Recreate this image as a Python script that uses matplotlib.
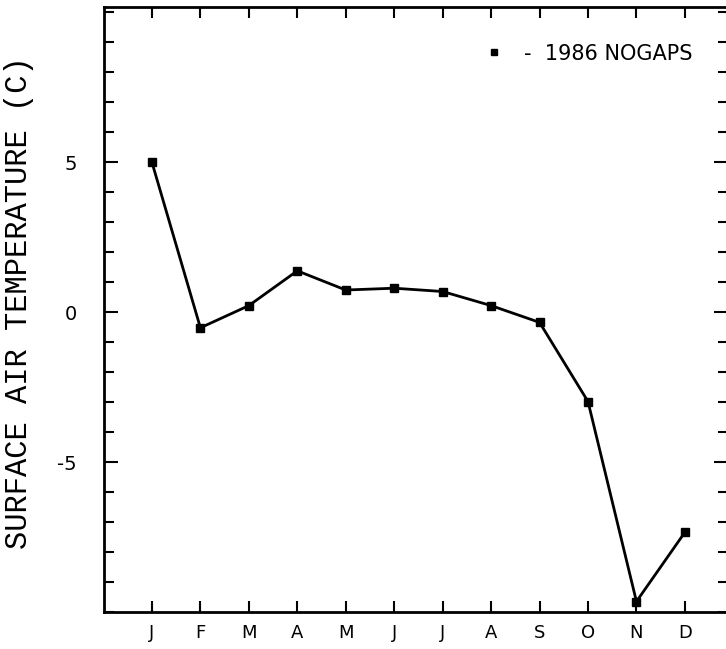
import matplotlib.pyplot as plt
from matplotlib.lines import Line2D
from matplotlib.ticker import MultipleLocator

# monthly surface air temperature, 1986 NOGAPS
months = ['J', 'F', 'M', 'A', 'M', 'J', 'J', 'A', 'S', 'O', 'N', 'D']
month_pos = list(range(1, 13))
temps = [5.0, -0.52, 0.22, 1.38, 0.74, 0.8, 0.69, 0.22, -0.34, -2.98, -9.65, -7.34]
yticks = [-5, 0, 5]
ytick_labels = ['-5', '0', '5']

fig = plt.figure(figsize=(7.26, 6.49), dpi=100)
W, H = 726, 649
# axes box in pixels (right spine sits just past the picture edge)
left, right, top, bottom = 103.5, 728.5, 7, 612
ax = fig.add_axes([left / W, 1 - bottom / H, (right - left) / W, (bottom - top) / H])

ax.plot(month_pos, temps, color='black', lw=2, marker='s', ms=6)

ax.set_xlim(0, 12.9)
ax.set_ylim(-10, 10.18)
ax.set_xticks(month_pos)
ax.set_xticklabels(months, fontsize=13)
ax.set_yticks(yticks)
ax.set_yticklabels(ytick_labels, fontsize=14)
ax.yaxis.set_minor_locator(MultipleLocator(1))

ax.tick_params(which='both', direction='in', top=True, right=True, width=1.5)
ax.tick_params(axis='x', length=8, pad=9)
ax.tick_params(axis='y', which='major', length=10, pad=19)
ax.tick_params(axis='y', which='minor', length=7)
for s in ax.spines.values():
    s.set_linewidth(2)

fig.text(19 / W, 1 - 303 / H, 'SURFACE AIR TEMPERATURE (C)', rotation=90,
         ha='center', va='center', fontsize=22, family='Liberation Mono')

handle = Line2D([], [], color='black', marker='s', ms=5, ls='none')
ax.legend([handle], ['-  1986 NOGAPS'], loc='upper right',
          bbox_to_anchor=(0.955, 0.953), frameon=False, fontsize=15,
          handlelength=0.6, handletextpad=1.1, borderaxespad=0)

fig.savefig('out.png', dpi=100)
